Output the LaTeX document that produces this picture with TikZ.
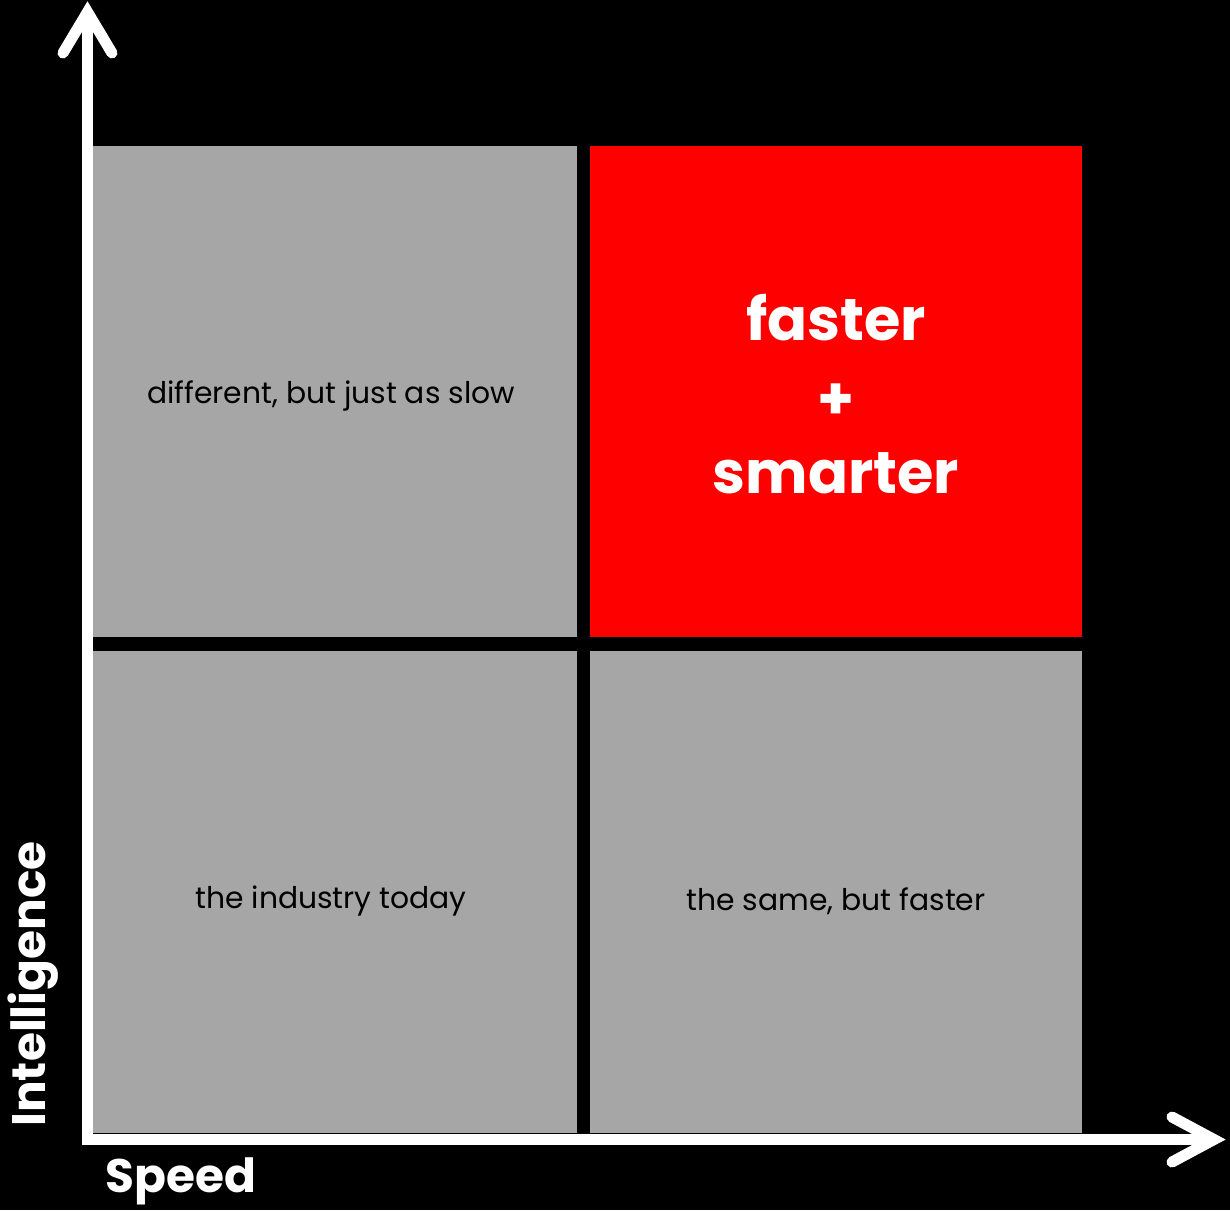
\documentclass[tikz,border=0pt]{standalone}
\usepackage{fontspec}
\setmainfont{Poppins}
\begin{document}
\begin{tikzpicture}[x=1pt,y=-1pt,
  cell/.style={draw=none,inner sep=0pt,anchor=north west},
  axis/.style={white,line width=11pt},
  tipline/.style={white,line width=11pt,line cap=round,line join=miter},
  small/.style={font=\fontsize{29.8}{34}\selectfont,text=black},
  big/.style={font=\fontsize{59}{66}\selectfont\bfseries,text=white},
  lab/.style={font=\fontsize{47}{52}\selectfont\bfseries,text=white,inner sep=0pt}]
\fill[black] (0,0) rectangle (1230,1210);
\useasboundingbox (0,0) rectangle (1230,1210);
\node[cell,fill={rgb,255:red,166;green,166;blue,166},minimum width=484pt,minimum height=491pt] (tl) at (93,146) {};
\node[cell,fill={rgb,255:red,255;green,0;blue,0},minimum width=492pt,minimum height=491pt] (tr) at (590,146) {};
\node[cell,fill={rgb,255:red,166;green,166;blue,166},minimum width=484pt,minimum height=482pt] (bl) at (93,651) {};
\node[cell,fill={rgb,255:red,166;green,166;blue,166},minimum width=492pt,minimum height=482pt] (br) at (590,651) {};
\node[small] (t1) at (331,396) {different, but just as slow};
\node[small] (t3) at (331,901) {the industry today};
\node[small] (t4) at (836,901) {the same, but faster};
\node[big] (f1) at (836,318) {faster};
\node[big] (f2) at (836,402) {+};
\node[big] (f3) at (836,473) {smarter};
\coordinate (o) at (82,1139.5);
\coordinate (ytop) at (87.5,10);
\coordinate (xend) at (1214,1139.5);
\draw[axis] (87.5,1145) -- (ytop);
\draw[axis] (o) -- (xend);
\draw[tipline] (63,53) -- (87.5,12) -- (112,53);
\draw[tipline] (1172,1117) -- (1214,1139.5) -- (1172,1162);
\node[lab,rotate=90] (yl) at (33,984) {Intelligence};
\node[lab] (xl) at (181,1181) {Speed};
\end{tikzpicture}
\end{document}
